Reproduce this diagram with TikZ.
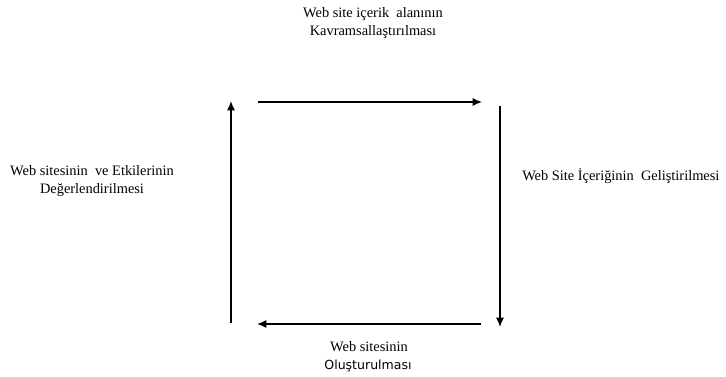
\documentclass[tikz,border=0pt]{standalone}
\usepackage{fontspec}
\setmainfont{Liberation Serif}
\newfontfamily\tahoma{DejaVu Sans}
\usepackage{tikz}
\usetikzlibrary{arrows.meta}

\begin{document}
\begin{tikzpicture}[x=0.75pt, y=-0.75pt, font=\fontsize{10.8}{13.5}\selectfont]
    \useasboundingbox (0,0) rectangle (726,377);
    \tikzset{lbl/.style={align=center, inner sep=0pt}}
    \tikzset{arr/.style={-{Latex[length=7pt,width=6pt]}, line width=0.9pt}}
    % kose noktalari
    \coordinate (A1) at (258,102);
    \coordinate (A2) at (482,102);
    \coordinate (B1) at (500,106);
    \coordinate (B2) at (500,327);
    \coordinate (C1) at (481,324);
    \coordinate (C2) at (257,324);
    \coordinate (D1) at (231,323);
    \coordinate (D2) at (231,101);
    \draw[arr] (A1) -- (A2);
    \draw[arr] (B1) -- (B2);
    \draw[arr] (C1) -- (C2);
    \draw[arr] (D1) -- (D2);
    % etiketler
    \node[lbl] (ust) at (373,23) {Web site içerik\ \ alanının\\Kavramsallaştırılması};
    \node[lbl] (sol) at (92,181) {Web sitesinin\ \ ve Etkilerinin\\Değerlendirilmesi};
    \node[lbl, anchor=west] (sag) at (522,176) {Web Site İçeriğinin\ \ Geliştirilmesi};
    \node[lbl] (alt1) at (369,347) {Web sitesinin};
    \node[lbl, font=\tahoma\fontsize{9.4}{12}\selectfont] (alt2) at (368,366) {Oluşturulması};
\end{tikzpicture}
\end{document}
